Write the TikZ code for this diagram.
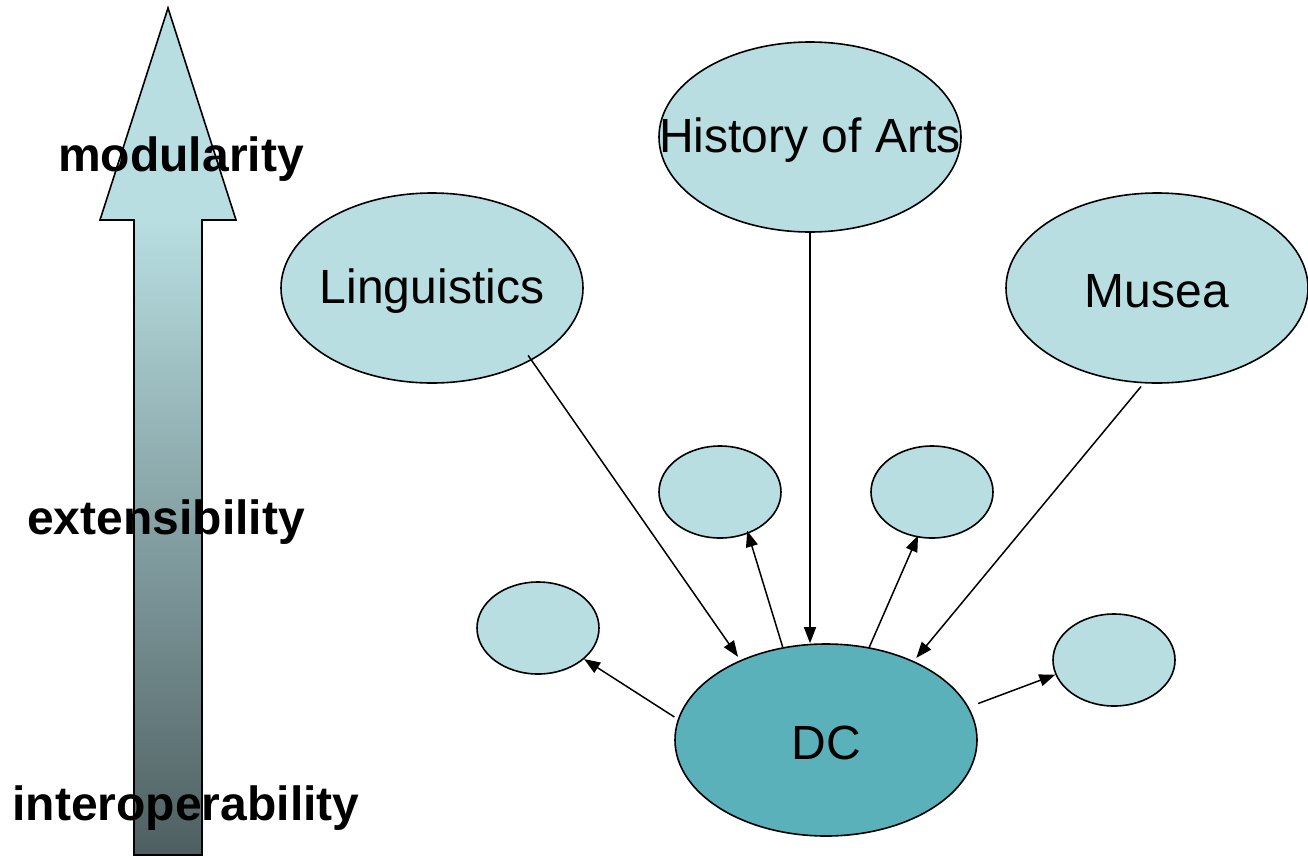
\documentclass[tikz,border=0pt]{standalone}
\usepackage{fontspec}
\setmainfont{Liberation Sans}
\usetikzlibrary{arrows.meta,shapes.geometric}
\definecolor{paleteal}{RGB}{184,222,225}
\definecolor{dcteal}{RGB}{90,177,185}
\definecolor{shaftdark}{RGB}{78,95,97}
% centred label of zero width, lowered a little without changing its box
\newcommand{\bubbletext}[1]{\makebox[0pt]{\raisebox{-3pt}[\height][\depth]{#1}}}
\begin{document}
\begin{tikzpicture}[x=1pt,y=-1pt,
  bubble/.style={ellipse,draw=black,line width=1.6pt,fill=paleteal,inner sep=0pt,
    font=\fontsize{48}{57}\selectfont},
  big/.style={bubble,minimum width=302pt,minimum height=190pt},
  small/.style={bubble,minimum width=122pt,minimum height=92pt},
  link/.style={line width=1.5pt,-{Triangle[length=16pt,width=12pt]}},
  level/.style={font=\bfseries\fontsize{48}{57}\selectfont}]
\useasboundingbox (0,0) rectangle (1308,857);

% scale arrow: shaded shaft, plain head, common outline
\shade[top color=paleteal,bottom color=shaftdark] (134,220) rectangle (202,855);
\fill[paleteal] (100,220) -- (168,8) -- (236,220) -- cycle;
\draw[line width=1.6pt,line join=miter]
  (134,855) -- (134,220) -- (100,220) -- (168,8) -- (236,220) -- (202,220) -- (202,855) -- cycle;

\node[level] (modlab) at (181,159) {modularity};
\node[level] (extlab) at (166,522) {extensibility};
\node[level] (intlab) at (186,808) {interoperability};

% domains
\node[big] (hist) at (810,137) {\bubbletext{History of Arts}};
\node[big] (ling) at (432,288) {\bubbletext{Linguistics}};
\node[big] (mus)  at (1157,288) {\bubbletext{Musea}};

% extensions
\node[small] (e1) at (720,492) {};
\node[small] (e2) at (932,492) {};
\node[small] (e3) at (538,628) {};
\node[small] (e4) at (1114,660) {};

% core
\node[bubble,fill=dcteal,minimum width=302pt,minimum height=192pt] (dc) at (826,740) {\bubbletext{DC}};

% connectors
\draw[link,shorten <=-6pt,shorten >=4pt] (ling.-36) -- (dc.137);
\draw[link] (hist.south) -- (dc.north -| hist.south);
\draw[link,shorten <=4pt,shorten >=4pt] (mus.-98) -- (dc.42);
\draw[link,shorten >=-3pt] (dc.115) -- (e1.-56);
\draw[link,shorten >=-2pt] (dc.65) -- (e2.-108);
\draw[link,shorten <=4pt] (dc.172) -- (e3.-34);
\draw[link,shorten <=10pt] (dc.13) -- (e4.194);
\end{tikzpicture}
\end{document}
